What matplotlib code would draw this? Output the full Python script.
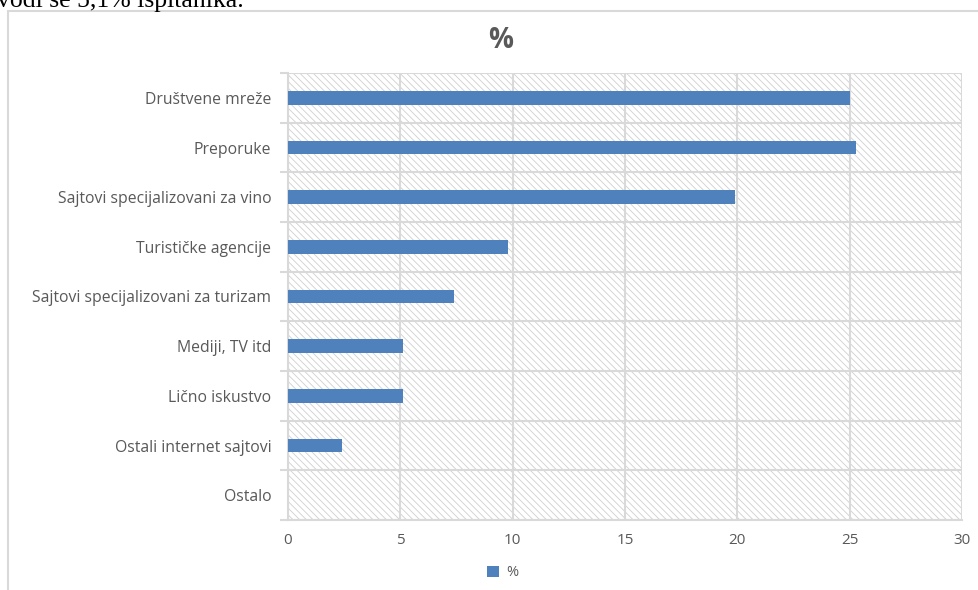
import matplotlib
matplotlib.use("Agg")
import matplotlib.pyplot as plt
from matplotlib.patches import Rectangle

categories = ["Društvene mreže", "Preporuke", "Sajtovi specijalizovani za vino",
              "Turističke agencije", "Sajtovi specijalizovani za turizam",
              "Mediji, TV itd", "Lično iskustvo", "Ostali internet sajtovi", "Ostalo"]
values = [25.0, 25.3, 19.9, 9.8, 7.4, 5.1, 5.1, 2.4, 0.0]
xticks = [0, 5, 10, 15, 20, 25, 30]

bar_color = "#4f81bd"
text_gray = "#595959"
grid_gray = "#d9d9d9"

plt.rcParams["font.family"] = ["Open Sans", "DejaVu Sans"]
plt.rcParams["hatch.linewidth"] = 0.6
plt.rcParams["hatch.color"] = "#cfcfcf"

fig = plt.figure(figsize=(9.79, 5.90), dpi=100)
ax = fig.add_axes([288 / 979, 1 - 520 / 590, (962 - 288) / 979, (520 - 73) / 590])

# chart frame, runs off the right and bottom edges
fig.patches.append(Rectangle((8 / 979, -0.1), 1.2, 1 - 11 / 590 + 0.1,
                             transform=fig.transFigure, fill=False,
                             edgecolor=grid_gray, linewidth=1.5))
# cut-off line of body text above the chart
fig.text(-0.003, 1 - 1 / 590, "vodi se 5,1% ispitanika.", family="Liberation Serif",
         fontsize=18.5, color="black", va="center", ha="left")

n = len(categories)
ypos = list(range(n))
ax.set_xlim(0, 30)
ax.set_ylim(n - 0.5, -0.5)

# hatched plot background
ax.add_patch(Rectangle((0, 0), 1, 1, transform=ax.transAxes, facecolor="white",
                       edgecolor="#cfcfcf", hatch="\\\\\\\\\\", linewidth=0, zorder=0))

ax.barh(ypos, values, height=0.28, color=bar_color, zorder=3, label="%")

for x in xticks:
    ax.axvline(x, color=grid_gray, linewidth=1.5, zorder=1)
for k in range(n + 1):
    ax.axhline(k - 0.5, color=grid_gray, linewidth=1.5, zorder=1)

ax.set_xticks(xticks)
ax.set_yticks(ypos)
ax.set_yticklabels(categories)
ax.tick_params(axis="x", length=0, pad=9, labelsize=11, labelcolor=text_gray)
ax.tick_params(axis="y", length=0, pad=12, labelsize=11.3, labelcolor=text_gray)
ax.set_yticks([k - 0.5 for k in range(n + 1)], minor=True)
ax.tick_params(axis="y", which="minor", length=6, color=grid_gray, width=1.5)
for side in ["top", "right"]:
    ax.spines[side].set_visible(False)
for side in ["left", "bottom"]:
    ax.spines[side].set_color(grid_gray)
    ax.spines[side].set_linewidth(1.5)

fig.text(501 / 979, 1 - 40 / 590, "%", fontsize=20, fontweight="bold",
         color=text_gray, ha="center", va="center")

fig.legend(loc="center", bbox_to_anchor=(503 / 979, 1 - 573 / 590), frameon=False,
           fontsize=10.5, labelcolor=text_gray, handlelength=0.8, handleheight=0.8,
           handletextpad=0.5)

fig.savefig("out.png", dpi=100)
